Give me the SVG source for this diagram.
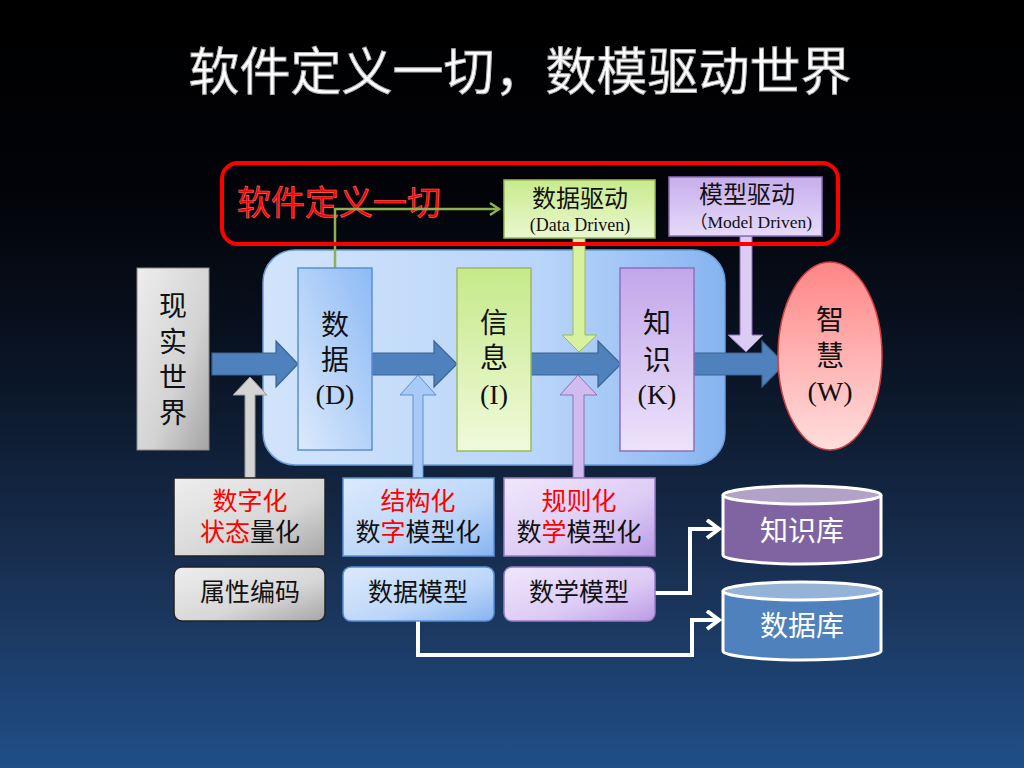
<svg xmlns="http://www.w3.org/2000/svg" width="1024" height="768" viewBox="0 0 1024 768">
<defs>
<linearGradient id="bg" x1="0" y1="0" x2="0" y2="1">
<stop offset="0" stop-color="#000000"/>
<stop offset="0.25" stop-color="#020308"/>
<stop offset="0.5" stop-color="#0b1628"/>
<stop offset="0.78" stop-color="#1a3459"/>
<stop offset="1" stop-color="#1f4f88"/>
</linearGradient>
<linearGradient id="gBig" x1="0" y1="0" x2="1" y2="0">
<stop offset="0" stop-color="#d2e4fc"/>
<stop offset="0.6" stop-color="#b9d5f9"/>
<stop offset="1" stop-color="#86b4f0"/>
</linearGradient>
<linearGradient id="gGray" x1="0" y1="0" x2="1" y2="1">
<stop offset="0" stop-color="#ededed"/>
<stop offset="0.6" stop-color="#d2d2d2"/>
<stop offset="1" stop-color="#a4a4a4"/>
</linearGradient>
<linearGradient id="gBlue" x1="1" y1="0" x2="0" y2="1">
<stop offset="0" stop-color="#8dbaf5"/>
<stop offset="1" stop-color="#dceafc"/>
</linearGradient>
<linearGradient id="gGreen" x1="0" y1="0" x2="0" y2="1">
<stop offset="0" stop-color="#c6e98a"/>
<stop offset="1" stop-color="#f0fadc"/>
</linearGradient>
<linearGradient id="gPurple" x1="0" y1="0" x2="0" y2="1">
<stop offset="0" stop-color="#c2a6ea"/>
<stop offset="1" stop-color="#ede3fb"/>
</linearGradient>
<linearGradient id="gRed" x1="0" y1="0" x2="0" y2="1">
<stop offset="0" stop-color="#ff8686"/>
<stop offset="1" stop-color="#ffdede"/>
</linearGradient>
<linearGradient id="gBlueH" x1="0" y1="0" x2="1" y2="1">
<stop offset="0" stop-color="#dceafd"/>
<stop offset="0.6" stop-color="#bcd6f9"/>
<stop offset="1" stop-color="#86b4f1"/>
</linearGradient>
<linearGradient id="gPurpleH" x1="0" y1="0" x2="1" y2="1">
<stop offset="0" stop-color="#f0e8fc"/>
<stop offset="0.6" stop-color="#dccaf5"/>
<stop offset="1" stop-color="#bb9be5"/>
</linearGradient>
<linearGradient id="gGrayH" x1="0" y1="0" x2="1" y2="1">
<stop offset="0" stop-color="#eeeeee"/>
<stop offset="0.6" stop-color="#d6d6d6"/>
<stop offset="1" stop-color="#a6a6a6"/>
</linearGradient>
<linearGradient id="gGreenTop" x1="0" y1="0" x2="0" y2="1">
<stop offset="0" stop-color="#c9ea8e"/>
<stop offset="1" stop-color="#eaf8d0"/>
</linearGradient>
<linearGradient id="gPurpleTop" x1="0" y1="0" x2="0" y2="1">
<stop offset="0" stop-color="#c7aeec"/>
<stop offset="1" stop-color="#e6dafa"/>
</linearGradient>
<marker id="chevW" markerUnits="userSpaceOnUse" markerWidth="20" markerHeight="22" refX="14" refY="10" orient="auto" viewBox="0 0 20 22">
<path d="M2,1 L14,10 L2,19" fill="none" stroke="#ffffff" stroke-width="4" stroke-linejoin="miter"/>
</marker>
<marker id="chevG" markerUnits="userSpaceOnUse" markerWidth="16" markerHeight="16" refX="11" refY="8" orient="auto" viewBox="0 0 16 16">
<path d="M2,2 L11,8 L2,14" fill="none" stroke="#8fb04e" stroke-width="2.5"/>
</marker>
</defs>
<style>
.cjk{font-family:'Noto Sans CJK SC','Noto Sans CJK JP',sans-serif;}
.ser{font-family:'Liberation Serif','Noto Sans CJK SC',serif;}
.bt{font-size:28px;fill:#111;text-anchor:middle;}
.lb{font-size:25px;fill:#111;text-anchor:middle;}
.red{fill:#ff0000;}
.fat{fill:#4f81bd;stroke:#3a6391;stroke-width:1.2;}
</style>
<rect width="1024" height="768" fill="url(#bg)"/>
<text x="520" y="90" class="cjk" font-size="51" fill="#ffffff" stroke="#b0b0b0" stroke-width="1" text-anchor="middle">软件定义一切，数模驱动世界</text>

<g id="platform">
<rect x="263" y="250" width="462" height="215" rx="32" fill="url(#gBig)" stroke="#6d9ddb" stroke-width="1.5"/>
</g>

<text x="237" y="215" class="cjk" font-size="34" fill="#ff0000" stroke="#ff6a6a" stroke-width="0.6">软件定义一切</text>

<g id="connectors">
<path d="M335,268 V209 H499" fill="none" stroke="#8fb04e" stroke-width="2.5" marker-end="url(#chevG)"/>
<path d="M655,593 H690 V529 H719" fill="none" stroke="#ffffff" stroke-width="4" marker-end="url(#chevW)"/>
<path d="M418,621 V655 H692 V620 H719" fill="none" stroke="#ffffff" stroke-width="4" marker-end="url(#chevW)"/>
<polygon class="fat" points="212,353 276,353 276,341 298,364 276,387 276,375 212,375"/>
<polygon class="fat" points="372,353 434,353 434,341 457,364 434,387 434,375 372,375"/>
<polygon class="fat" points="530,353 598,353 598,341 621,364 598,387 598,375 530,375"/>
<polygon class="fat" points="694,353 762,353 762,341 785,364 762,387 762,375 694,375"/>
<polygon points="245,478 245,395 233,395 250,377 267,395 255,395 255,478" fill="#d4d4d4" stroke="#9a9a9a" stroke-width="1"/>
<polygon points="413,478 413,395 400,395 418,375 436,395 423,395 423,478" fill="#a9caf6" stroke="#5f8fd2" stroke-width="1"/>
<polygon points="573,478 573,395 560,395 578,375 597,395 584,395 584,478" fill="#d2bcef" stroke="#8e6fba" stroke-width="1"/>
<polygon points="573,238 573,335 562,335 579,352 597,335 585,335 585,238" fill="#d8f19e" stroke="#9bbb59" stroke-width="1"/>
<polygon points="740,236 740,335 728,335 746,352 763,335 752,335 752,236" fill="#dccbf3" stroke="#8e6fba" stroke-width="1"/>
</g>

<g id="datadriven">
<rect x="504" y="180" width="151" height="58" fill="url(#gGreenTop)" stroke="#9bbb59" stroke-width="1.5"/>
<text x="580" y="207" class="cjk" font-size="24" fill="#111" text-anchor="middle">数据驱动</text>
<text x="580" y="231" class="ser" font-size="18" fill="#111" text-anchor="middle">(Data Driven)</text>
</g>
<g id="modeldriven">
<rect x="669" y="177" width="153" height="59" fill="url(#gPurpleTop)" stroke="#8e6fba" stroke-width="1.5"/>
<text x="747" y="203" class="cjk" font-size="24" fill="#111" text-anchor="middle">模型驱动</text>
<text x="751" y="228" class="ser" font-size="17.5" fill="#111" text-anchor="middle">（Model Driven)</text>
</g>

<rect x="222" y="163" width="616" height="81" rx="16" fill="none" stroke="#ff0000" stroke-width="4"/>

<g id="real">
<rect x="137" y="268" width="72" height="182" fill="url(#gGray)" stroke="#888" stroke-width="1"/>
<text class="cjk bt" x="173" y="316">现<tspan x="173" dy="36">实</tspan><tspan x="173" dy="36">世</tspan><tspan x="173" dy="35">界</tspan></text>
</g>
<g id="data">
<rect x="298" y="268" width="74" height="182" fill="url(#gBlue)" stroke="#5b8fd6" stroke-width="1.5"/>
<text class="cjk bt" x="335" y="335">数<tspan x="335" dy="35">据</tspan><tspan x="335" dy="34" class="ser">(D)</tspan></text>
</g>
<g id="info">
<rect x="457" y="268" width="74" height="183" fill="url(#gGreen)" stroke="#9bbb59" stroke-width="1.5"/>
<text class="cjk bt" x="494" y="333">信<tspan x="494" dy="35">息</tspan><tspan x="494" dy="36" class="ser">(I)</tspan></text>
</g>
<g id="knowledge">
<rect x="620" y="268" width="74" height="183" fill="url(#gPurple)" stroke="#8e6fba" stroke-width="1.5"/>
<text class="cjk bt" x="657" y="333">知<tspan x="657" dy="37">识</tspan><tspan x="657" dy="34" class="ser">(K)</tspan></text>
</g>
<g id="wisdom">
<ellipse cx="830" cy="356" rx="52" ry="94" fill="url(#gRed)" stroke="#d04040" stroke-width="1.5"/>
<text class="cjk bt" x="830" y="330">智<tspan x="830" dy="36">慧</tspan><tspan x="830" dy="35" class="ser">(W)</tspan></text>
</g>

<g id="digitize">
<rect x="174" y="478" width="151" height="78" fill="url(#gGrayH)" stroke="#222" stroke-width="1.5"/>
<text class="cjk lb" x="250" y="510"><tspan class="red">数字化</tspan><tspan x="250" dy="31" class="red">状态</tspan>量化</text>
</g>
<g id="structure">
<rect x="343" y="478" width="151" height="78" fill="url(#gBlueH)" stroke="#5b8fd6" stroke-width="1.5"/>
<text class="cjk lb" x="418" y="510"><tspan class="red">结构化</tspan><tspan x="418" dy="31">数</tspan><tspan class="red">字</tspan>模型化</text>
</g>
<g id="rule">
<rect x="504" y="478" width="151" height="78" fill="url(#gPurpleH)" stroke="#9a7cc4" stroke-width="1.5"/>
<text class="cjk lb" x="579" y="510"><tspan class="red">规则化</tspan><tspan x="579" dy="31">数</tspan><tspan class="red">学</tspan>模型化</text>
</g>
<g id="attr">
<rect x="174" y="567" width="151" height="54" rx="8" fill="url(#gGrayH)" stroke="#222" stroke-width="1.5"/>
<text class="cjk lb" x="250" y="601">属性编码</text>
</g>
<g id="datamodel">
<rect x="343" y="567" width="151" height="54" rx="8" fill="url(#gBlueH)" stroke="#5b8fd6" stroke-width="1.5"/>
<text class="cjk lb" x="418" y="601">数据模型</text>
</g>
<g id="mathmodel">
<rect x="504" y="567" width="151" height="54" rx="8" fill="url(#gPurpleH)" stroke="#9a7cc4" stroke-width="1.5"/>
<text class="cjk lb" x="579" y="601">数学模型</text>
</g>

<g id="kb">
<path d="M723,495 V555 A79,9 0 0 0 881,555 V495" fill="#8064a2" stroke="#ffffff" stroke-width="3"/>
<ellipse cx="802" cy="495" rx="79" ry="9" fill="#b3a2c7" stroke="#ffffff" stroke-width="3"/>
<text x="802" y="541" class="cjk" font-size="28" fill="#ffffff" text-anchor="middle">知识库</text>
</g>
<g id="db">
<path d="M723,591 V651 A79,9 0 0 0 881,651 V591" fill="#4f81bd" stroke="#ffffff" stroke-width="3"/>
<ellipse cx="802" cy="591" rx="79" ry="9" fill="#95b3d7" stroke="#ffffff" stroke-width="3"/>
<text x="802" y="636" class="cjk" font-size="28" fill="#ffffff" text-anchor="middle">数据库</text>
</g>
</svg>
